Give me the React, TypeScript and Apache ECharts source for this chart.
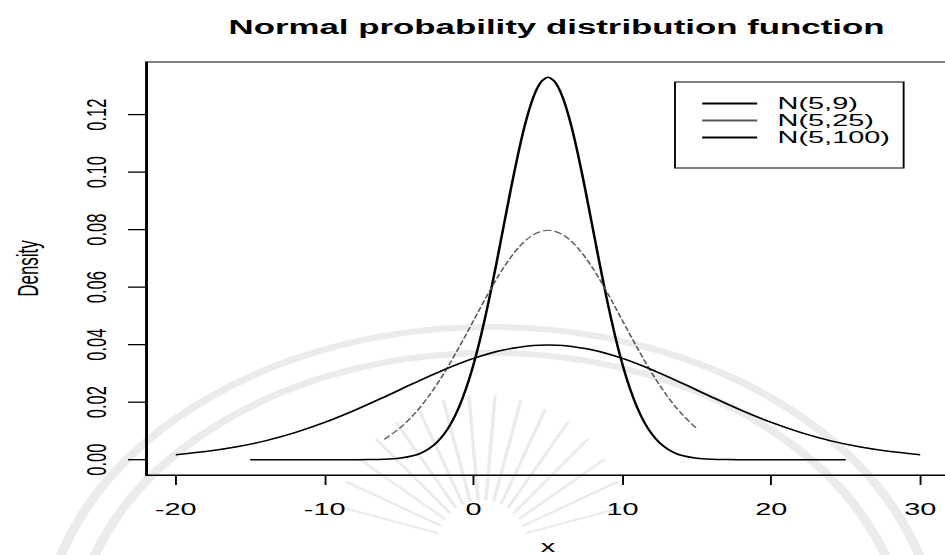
import React, { useEffect, useRef } from "react";
import * as echarts from "echarts";

// The drawing is laid out in narrow coordinates and widened with a CSS
// transform, so every horizontal measure below is divided by K.
const K = 1.7;
const PAGE_W = 945;
const W0 = 960 / K;
const H = 555;

const TITLE = "Normal probability distribution function";
const X_TICKS = [-20, -10, 0, 10, 20, 30];
const Y_TICKS = [0, 0.02, 0.04, 0.06, 0.08, 0.1, 0.12];
const X_MIN = -22;
const X_MAX = 32;
const Y_MIN = -0.00532;
const Y_MAX = 0.13829;

// N(5,9)
const n9X = [
  -15, -14, -13, -12, -11, -10, -9, -8, -7, -6, -5,
  -4, -3.5, -3, -2.5, -2, -1.5, -1, -0.5, 0, 0.5, 1, 1.5, 2, 2.5, 3, 3.5, 4, 4.5,
  5,
  5.5, 6, 6.5, 7, 7.5, 8, 8.5, 9, 9.5, 10, 10.5, 11, 11.5, 12, 12.5, 13, 13.5, 14,
  15, 16, 17, 18, 19, 20, 21, 22, 23, 24, 25,
];
const n9Y = [
  0, 0, 0, 0, 0, 0, 0, 0.00001, 0.00004, 0.00016, 0.00051,
  0.00148, 0.0024, 0.0038, 0.00584, 0.00874, 0.01272, 0.018, 0.02477, 0.03316, 0.04317, 0.05467, 0.06733, 0.08066, 0.09397, 0.10648, 0.11735, 0.12579, 0.13115,
  0.13298,
  0.13115, 0.12579, 0.11735, 0.10648, 0.09397, 0.08066, 0.06733, 0.05467, 0.04317, 0.03316, 0.02477, 0.018, 0.01272, 0.00874, 0.00584, 0.0038, 0.0024, 0.00148,
  0.00051, 0.00016, 0.00004, 0.00001, 0, 0, 0, 0, 0, 0, 0,
];

// N(5,25)
const n25X = [-6, -5, -4, -3, -2, -1, 0, 1, 2, 3, 4, 5, 6, 7, 8, 9, 10, 11, 12, 13, 14, 15];
const n25Y = [
  0.00709, 0.0108, 0.01579, 0.02218, 0.02995, 0.03884, 0.04839, 0.05794, 0.06664, 0.07365, 0.07821,
  0.07979, 0.07821, 0.07365, 0.06664, 0.05794, 0.04839, 0.03884, 0.02995, 0.02218, 0.01579, 0.0108,
];

// N(5,100)
const n100X = [-20, -18, -16, -14, -12, -10, -8, -6, -4, -2, 0, 2, 4, 5, 6, 8, 10, 12, 14, 16, 18, 20, 22, 24, 26, 28, 30];
const n100Y = [
  0.00175, 0.00283, 0.0044, 0.00656, 0.00941, 0.01295, 0.01714, 0.02179, 0.02661, 0.03123, 0.03521, 0.03814, 0.0397,
  0.03989,
  0.0397, 0.03814, 0.03521, 0.03123, 0.02661, 0.02179, 0.01714, 0.01295, 0.00941, 0.00656, 0.0044, 0.00283, 0.00175,
];

const SERIES_NAMES = ["N(5,9)", "N(5,25)", "N(5,100)"];

const FONT = "'Liberation Sans', Arial, Helvetica, sans-serif";
const MARK = "#ebebeb";
const Y_TICK_LEN = 18 / K;

const pairs = (xs: number[], ys: number[]) => xs.map((x, i) => [x, ys[i]]);

// Faint emblem behind the plot: two arched bands and a sunburst.
function emblem() {
  const els: any[] = [];
  const cx = 490 / K;
  const cy = 645;
  for (const [rx, ry] of [
    [447, 318],
    [415, 292],
  ]) {
    els.push({
      type: "ellipse",
      z: -10,
      silent: true,
      shape: { cx, cy, rx: rx / K, ry },
      style: { fill: "none", stroke: MARK, lineWidth: 6 },
    });
  }
  const sx = 482;
  const sy = 545;
  for (let a = 15; a <= 165; a += 10) {
    const t = (a * Math.PI) / 180;
    els.push({
      type: "line",
      z: -10,
      silent: true,
      shape: {
        x1: (sx + Math.cos(t) * 45) / K,
        y1: sy - Math.sin(t) * 45,
        x2: (sx + Math.cos(t) * 150) / K,
        y2: sy - Math.sin(t) * 150,
      },
      style: { stroke: MARK, lineWidth: 2 },
    });
  }
  return els;
}

export default function App() {
  const ref = useRef<HTMLDivElement>(null);

  useEffect(() => {
    if (!ref.current) return;
    const chart = echarts.init(ref.current, undefined, { renderer: "svg" });
    const axisLine = { show: true, onZero: false, lineStyle: { color: "#000", width: 1.1 } };
    chart.setOption({
      animation: false,
      backgroundColor: "#fff",
      graphic: { elements: emblem() },
      title: {
        text: TITLE,
        left: 548 / K,
        textAlign: "center",
        top: 11,
        textStyle: { fontFamily: FONT, fontSize: 20.5, fontWeight: "bold", color: "#000" },
      },
      legend: {
        orient: "vertical",
        left: 675 / K,
        top: 82,
        padding: [13, 8, 22, 16],
        borderColor: "#000",
        borderWidth: 1.1,
        itemWidth: 55 / K,
        itemHeight: 2,
        itemGap: 0,
        icon: "rect",
        data: SERIES_NAMES,
        textStyle: { fontFamily: FONT, fontSize: 17, lineHeight: 16.5, color: "#000", padding: [0, 0, 0, 7] },
      },
      grid: {
        left: 146 / K,
        top: 62,
        width: 804 / K,
        height: 413,
        show: true,
        borderColor: "#000",
        borderWidth: 1.1,
        backgroundColor: "transparent",
        containLabel: false,
        outerBoundsMode: "none",
      },
      xAxis: {
        type: "value",
        min: X_MIN,
        max: X_MAX,
        name: "x",
        nameLocation: "middle",
        nameGap: 63,
        nameTextStyle: { fontFamily: FONT, fontSize: 17, color: "#000" },
        axisLine,
        splitLine: { show: false },
        axisTick: { show: true, customValues: X_TICKS, length: 10, lineStyle: { color: "#000", width: 1.1 } },
        axisLabel: { customValues: X_TICKS, margin: 26, fontFamily: FONT, fontSize: 17, color: "#000" },
      },
      yAxis: {
        type: "value",
        min: Y_MIN,
        max: Y_MAX,
        name: "Density",
        nameLocation: "middle",
        nameRotate: 90,
        nameGap: 61,
        nameTextStyle: { fontFamily: FONT, fontSize: 17, color: "#000" },
        axisLine,
        splitLine: { show: false },
        axisTick: { show: false },
        axisLabel: {
          customValues: Y_TICKS,
          rotate: 90,
          margin: 21,
          fontFamily: FONT,
          fontSize: 16.5,
          color: "#000",
          formatter: (v: number) => v.toFixed(2),
        },
      },
      series: [
        {
          name: SERIES_NAMES[0],
          type: "line",
          data: pairs(n9X, n9Y),
          showSymbol: false,
          smooth: 0.3,
          color: "#000",
          lineStyle: { color: "#000", width: 1.5 },
        },
        {
          name: SERIES_NAMES[1],
          type: "line",
          data: pairs(n25X, n25Y),
          showSymbol: false,
          smooth: 0.3,
          color: "#555",
          lineStyle: { color: "#555", width: 1, type: [5, 2] },
        },
        {
          name: SERIES_NAMES[2],
          type: "line",
          data: pairs(n100X, n100Y),
          showSymbol: false,
          smooth: 0.3,
          color: "#000",
          lineStyle: { color: "#000", width: 1.5 },
        },
      ],
    });

    // Outward y-axis ticks, placed through the axis scale.
    const ticks = Y_TICKS.map((v) => {
      const p = chart.convertToPixel({ gridIndex: 0 }, [X_MIN, v]) as number[];
      return {
        type: "line",
        silent: true,
        z: 5,
        shape: { x1: p[0] - Y_TICK_LEN, y1: p[1], x2: p[0], y2: p[1] },
        style: { stroke: "#000", lineWidth: 1.3 },
      };
    });
    chart.setOption({ graphic: { elements: [...emblem(), ...ticks] } });

    return () => chart.dispose();
  }, []);

  return (
    <div
      style={{
        position: "absolute",
        left: 0,
        top: 0,
        width: PAGE_W,
        height: H,
        overflow: "hidden",
        background: "#fff",
      }}
    >
      <div
        ref={ref}
        style={{
          position: "absolute",
          left: 0,
          top: 0,
          width: W0,
          height: H,
          transform: `scaleX(${K})`,
          transformOrigin: "0 0",
        }}
      />
    </div>
  );
}
